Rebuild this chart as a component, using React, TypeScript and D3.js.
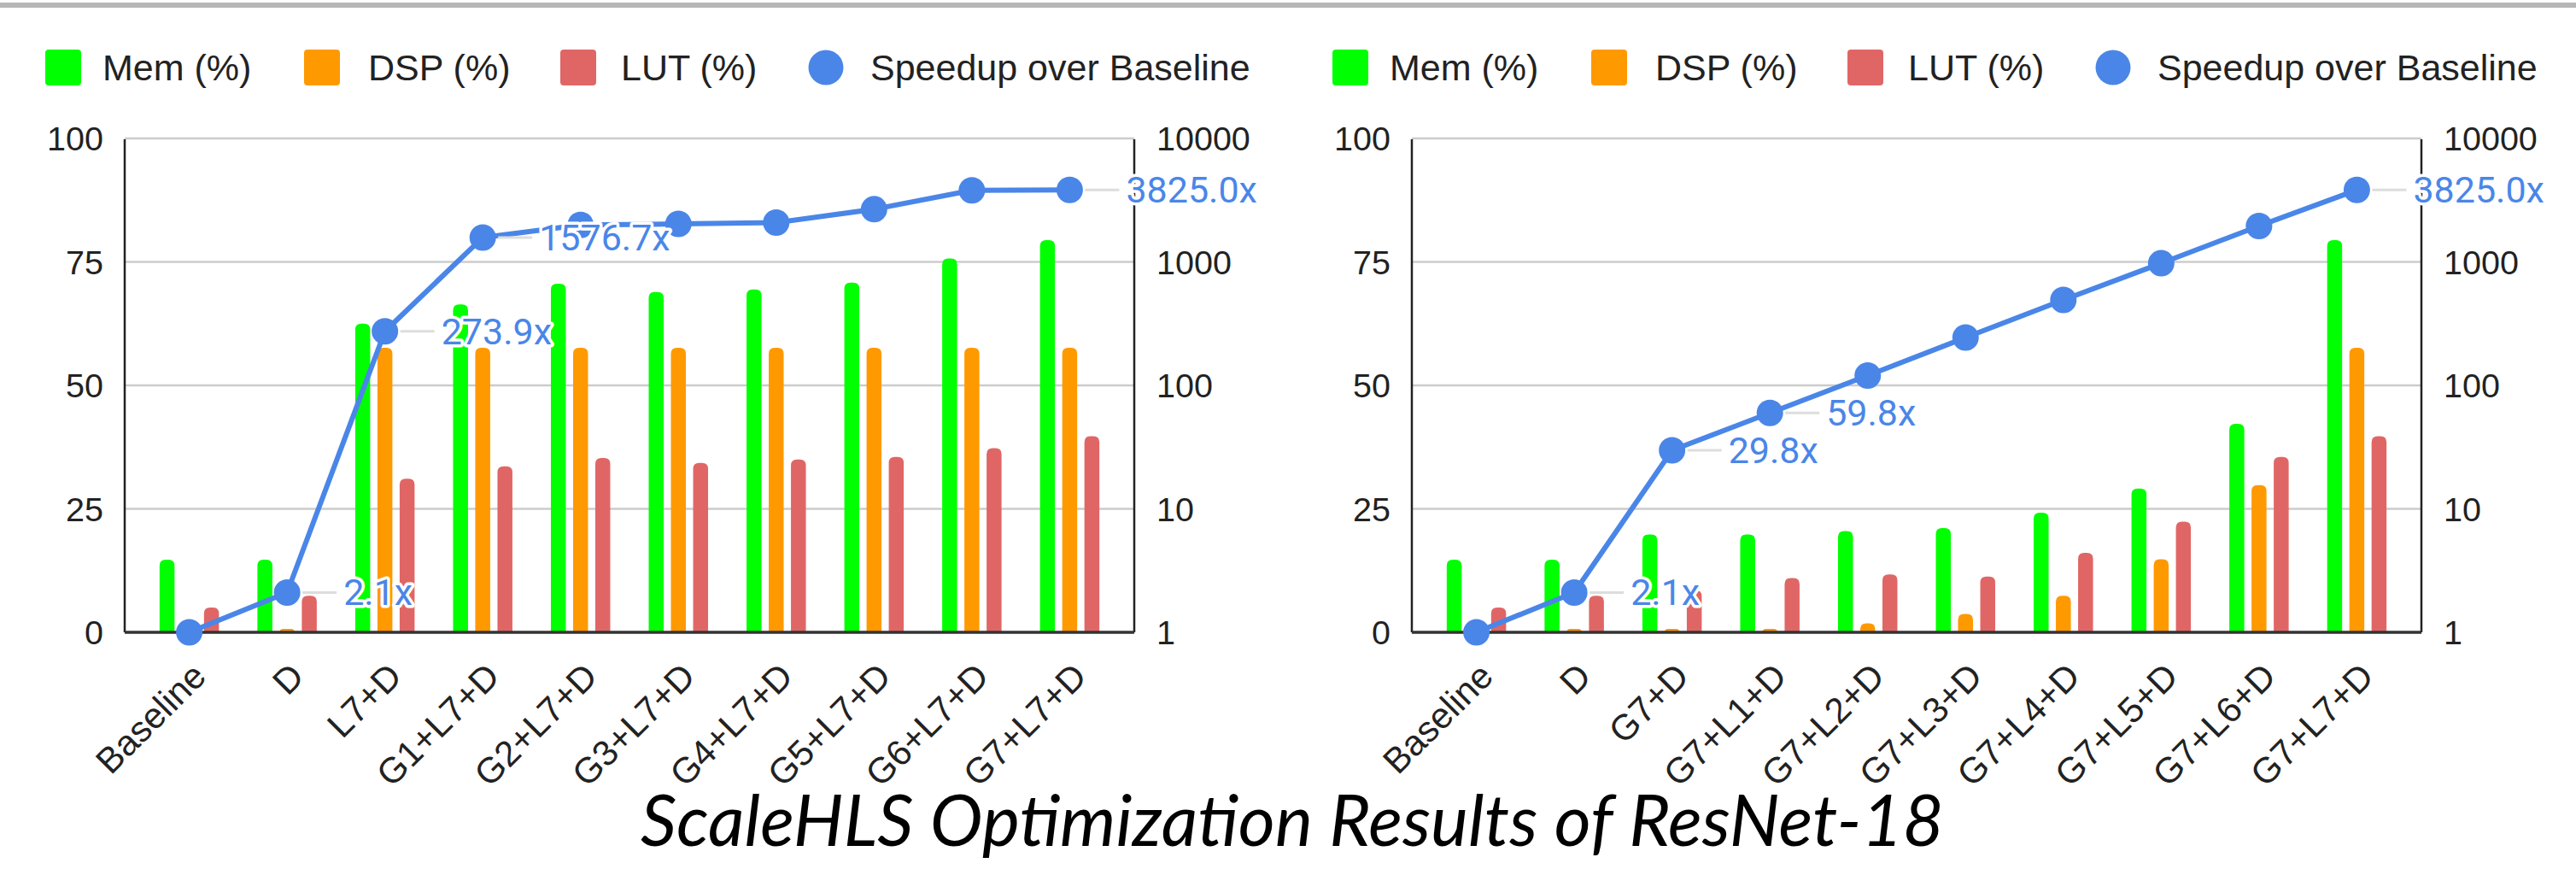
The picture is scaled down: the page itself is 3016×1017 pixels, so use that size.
import React from "react";
import * as d3 from "d3";

// ---------- data ----------
const categoriesA = ["Baseline", "D", "L7+D", "G1+L7+D", "G2+L7+D", "G3+L7+D", "G4+L7+D", "G5+L7+D", "G6+L7+D", "G7+L7+D"];
const memA = [14.7, 14.7, 62.5, 66.4, 70.6, 68.9, 69.4, 70.8, 75.7, 79.4];
const dspA = [0.7, 0.7, 57.6, 57.6, 57.6, 57.6, 57.6, 57.6, 57.6, 57.6];
const lutA = [5.0, 7.4, 31.1, 33.6, 35.3, 34.3, 35.0, 35.5, 37.3, 39.7];
const speedupA = [1, 2.1, 273.9, 1576.7, 1990, 2030, 2080, 2670, 3800, 3825.0];
const labeledA = [1, 2, 3, 9];

const categoriesB = ["Baseline", "D", "G7+D", "G7+L1+D", "G7+L2+D", "G7+L3+D", "G7+L4+D", "G7+L5+D", "G7+L6+D", "G7+L7+D"];
const memB = [14.7, 14.7, 19.8, 19.8, 20.5, 21.1, 24.2, 29.1, 42.2, 79.4];
const dspB = [0.7, 0.7, 0.7, 0.7, 1.8, 3.7, 7.4, 14.8, 29.8, 57.6];
const lutB = [5.0, 7.4, 8.5, 11.0, 11.7, 11.3, 16.1, 22.4, 35.5, 39.7];
const speedupB = [1, 2.1, 29.8, 59.8, 120, 244, 492, 975, 1955, 3825.0];
const labeledB = [1, 2, 3, 9];

const pctTicks = [0, 25, 50, 75, 100];
const logTicks = [1, 10, 100, 1000, 10000];
const legendLabels = ["Mem (%)", "DSP (%)", "LUT (%)", "Speedup over Baseline"];
const title = "ScaleHLS Optimization Results of ResNet-18";

const C_MEM = "#00ff00";
const C_DSP = "#ff9900";
const C_LUT = "#e06666";
const C_SPD = "#4a86e8";

function barPath(x: number, y: number, w: number, h: number, r: number) {
  if (h <= 0) return "";
  const rr = Math.min(r, h, w / 2);
  return `M${x},${y + h} V${y + rr} Q${x},${y} ${x + rr},${y} H${x + w - rr} Q${x + w},${y} ${x + w},${y + rr} V${y + h} Z`;
}

function Panel({ x0, categories, mem, dsp, lut, speedup, labeled }: any) {
  const left = 146, right = 1328, top = 162, bottom = 740;
  const x = d3.scalePoint<string>().domain(categories).range([left, right]).padding(0.66);
  const yPct = d3.scaleLinear().domain([0, 100]).range([bottom, top]);
  const yLog = d3.scaleLog().domain([1, 10000]).range([bottom, top]);
  const series = [
    { vals: mem, color: C_MEM, dx: -26 },
    { vals: dsp, color: C_DSP, dx: 0 },
    { vals: lut, color: C_LUT, dx: 26 },
  ];
  const bw = 17.5;
  const pts = speedup.map((v: number, i: number) => [x(categories[i]) as number, yLog(v)] as [number, number]);
  const line = d3.line()(pts) || "";
  const fmt = d3.format(".1f");

  const legSym = [53, 356, 656, 947];
  const legTxt = [120, 431, 727, 1019];
  const legY = 79;

  return (
    <g transform={`translate(${x0},0)`}>
      {/* legend */}
      {legendLabels.map((lab, i) => (
        <g key={lab}>
          {i < 3 ? (
            <rect x={legSym[i]} y={legY - 21} width={42} height={42} rx={4} fill={[C_MEM, C_DSP, C_LUT][i]} />
          ) : (
            <circle cx={legSym[i] + 20} cy={legY} r={20.5} fill={C_SPD} />
          )}
          <text x={legTxt[i]} y={legY + 15} fontSize={43} fontFamily="'Liberation Sans', Arial, sans-serif" fill="#222">
            {lab}
          </text>
        </g>
      ))}
      {/* gridlines */}
      {pctTicks.map((t) => (
        <line key={t} x1={left} x2={right} y1={yPct(t)} y2={yPct(t)} stroke="#cccccc" strokeWidth={2.5} />
      ))}
      {/* left ticks */}
      {pctTicks.map((t) => (
        <text key={"l" + t} x={left - 25} y={yPct(t) + 14} textAnchor="end" fontSize={39.5} fontFamily="'Liberation Sans', Arial, sans-serif" fill="#222">
          {t}
        </text>
      ))}
      {/* right ticks */}
      {logTicks.map((t) => (
        <text key={"r" + t} x={right + 26} y={yLog(t) + 14} textAnchor="start" fontSize={39.5} fontFamily="'Liberation Sans', Arial, sans-serif" fill="#222">
          {t}
        </text>
      ))}
      {/* bars */}
      {series.map((s, si) =>
        s.vals.map((v: number, i: number) => {
          const cx = (x(categories[i]) as number) + s.dx;
          const y = yPct(v);
          return <path key={si + "-" + i} d={barPath(cx - bw / 2, y, bw, bottom - y, 7)} fill={s.color} />;
        })
      )}
      {/* axes */}
      <line x1={left} x2={left} y1={top + 1} y2={bottom} stroke="#222" strokeWidth={2.5} />
      <line x1={right} x2={right} y1={top + 1} y2={bottom} stroke="#222" strokeWidth={2.5} />
      <line x1={left} x2={right} y1={bottom} y2={bottom} stroke="#333" strokeWidth={3.5} />
      {/* x labels */}
      {categories.map((c: string) => {
        const ax = (x(c) as number) + 22;
        const ay = 794;
        return (
          <text key={c} x={ax} y={ay} transform={`rotate(-45,${ax},${ay})`} textAnchor="end" fontSize={42} fontFamily="'Liberation Sans', Arial, sans-serif" fill="#222">
            {c}
          </text>
        );
      })}
      {/* speedup line */}
      <path d={line} fill="none" stroke={C_SPD} strokeWidth={6} strokeLinejoin="round" />
      {pts.map((p: [number, number], i: number) => (
        <circle key={"d" + i} cx={p[0]} cy={p[1]} r={15.5} fill={C_SPD} />
      ))}
      {/* data labels */}
      {labeled.map((i: number) => {
        const [px, py] = pts[i];
        return (
          <g key={"lab" + i}>
            <line x1={px + 18} x2={px + 58} y1={py} y2={py} stroke="#dddddd" strokeWidth={3} />
            <text
              x={px + 66}
              y={py + 15}
              fontSize={43}
              fontFamily="Roboto, 'Liberation Sans', sans-serif"
              fill={C_SPD}
              stroke="#ffffff"
              strokeWidth={7}
              strokeLinejoin="round"
              paintOrder="stroke"
            >
              {fmt(speedup[i]) + "x"}
            </text>
          </g>
        );
      })}
    </g>
  );
}

export default function App() {
  return (
    <div style={{ position: "absolute", left: 0, top: 0 }}>
      <svg width={3016} height={1017} style={{ display: "block", background: "#ffffff" }}>
        <rect x={0} y={0} width={3016} height={1017} fill="#ffffff" />
        <rect x={0} y={3} width={3016} height={6} fill="#b7b7b7" />
        <Panel x0={0} categories={categoriesA} mem={memA} dsp={dspA} lut={lutA} speedup={speedupA} labeled={labeledA} />
        <Panel x0={1507} categories={categoriesB} mem={memB} dsp={dspB} lut={lutB} speedup={speedupB} labeled={labeledB} />
        <text
          x={1513}
          y={990}
          textAnchor="middle"
          fontSize={84}
          fontStyle="italic"
          fontFamily="Lato, 'Open Sans', sans-serif"
          fill="#000"
          textLength={1526}
          lengthAdjust="spacingAndGlyphs"
        >
          {title}
        </text>
      </svg>
    </div>
  );
}
